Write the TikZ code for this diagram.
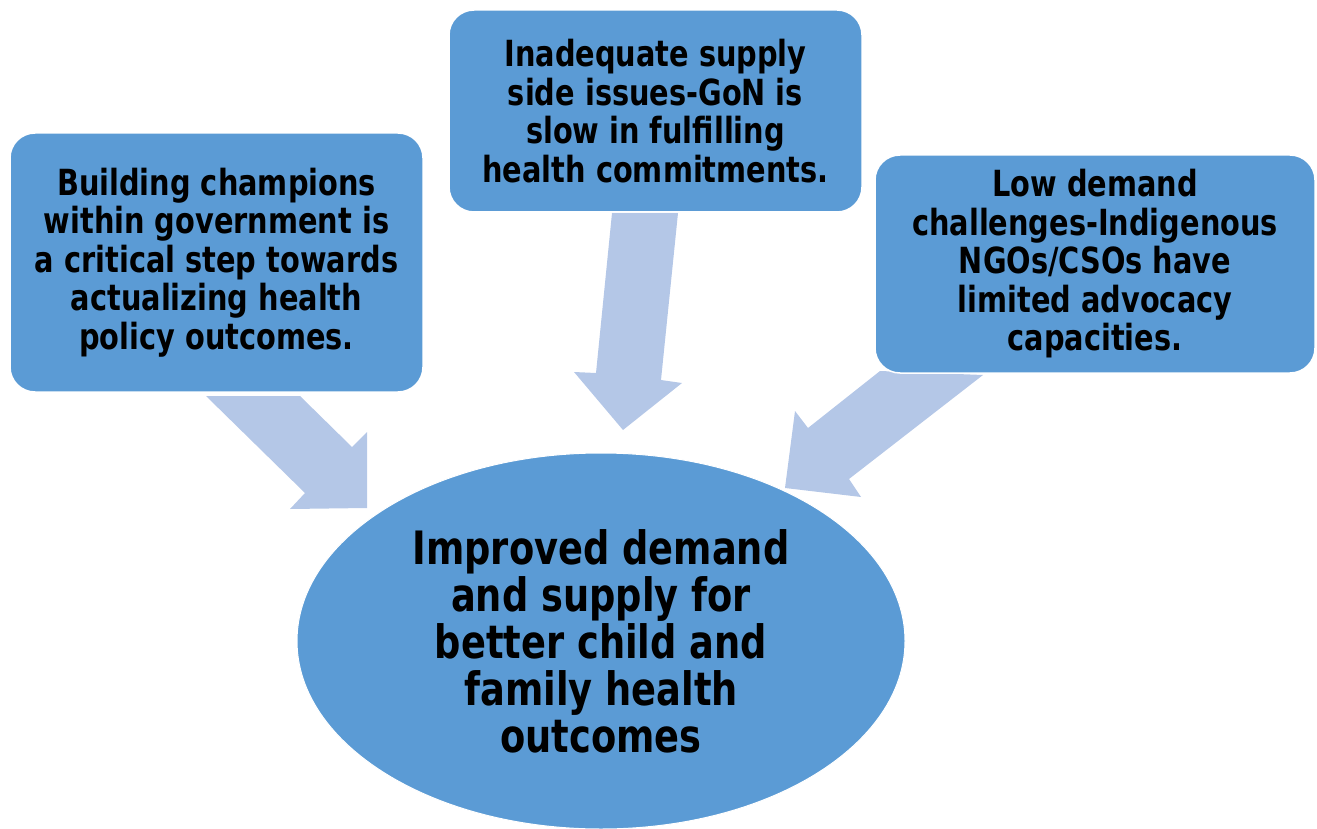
\documentclass[tikz,border=0pt]{standalone}
\usepackage{fontspec}
\setmainfont{DejaVu Sans}[FakeStretch=0.8]
\usetikzlibrary{shapes.geometric}
\definecolor{boxblue}{HTML}{5B9BD5}
\definecolor{arrowblue}{HTML}{B4C7E7}
\begin{document}
\begin{tikzpicture}[x=1pt,y=-1pt,
  sidebox/.style={draw=white,line width=1.5pt,fill=boxblue,rounded corners=25pt,
    inner sep=0pt,align=center,font=\bfseries\fontsize{36}{38.5}\selectfont},
  goalnode/.style={ellipse,draw=white,line width=1pt,fill=boxblue,inner sep=0pt,
    minimum width=608pt,minimum height=376pt,align=center,
    font=\bfseries\fontsize{46}{47}\selectfont},
  blockarrow/.style={fill=arrowblue,draw=none}]
\useasboundingbox (0,0) rectangle (1317,829);
% block arrows
\coordinate (la1) at (206,396); \coordinate (la2) at (300,396);
\coordinate (la3) at (352,447); \coordinate (la4) at (367,432);
\coordinate (la5) at (367,508); \coordinate (la6) at (290,509);
\coordinate (la7) at (305,493);
\fill[blockarrow] (la1) -- (la2) -- (la3) -- (la4) -- (la5) -- (la6) -- (la7) -- cycle;
\coordinate (ma1) at (612,213); \coordinate (ma2) at (678,213);
\coordinate (ma3) at (661,380); \coordinate (ma4) at (682,383);
\coordinate (ma5) at (623,430); \coordinate (ma6) at (574,372);
\coordinate (ma7) at (596,373);
\fill[blockarrow] (ma1) -- (ma2) -- (ma3) -- (ma4) -- (ma5) -- (ma6) -- (ma7) -- cycle;
\coordinate (ra1) at (983,375); \coordinate (ra2) at (880,371);
\coordinate (ra3) at (808,428); \coordinate (ra4) at (795,411);
\coordinate (ra5) at (785,488); \coordinate (ra6) at (861,497);
\coordinate (ra7) at (849,479);
\fill[blockarrow] (ra1) -- (ra2) -- (ra3) -- (ra4) -- (ra5) -- (ra6) -- (ra7) -- cycle;
% boxes
\node[sidebox,minimum width=413pt,minimum height=259pt] (left) at (216.5,262.5)
  {Building champions\\within government is\\a critical step towards\\actualizing health\\policy outcomes.};
\node[sidebox,minimum width=413pt,minimum height=202pt] (mid) at (655.5,111)
  {Inadequate supply\\side issues-GoN is\\slow in fulfilling\\health commitments.};
\node[sidebox,minimum width=440pt,minimum height=218pt] (right) at (1095,264)
  {Low demand\\challenges-Indigenous\\NGOs/CSOs have\\limited advocacy\\capacities.};
\node[goalnode] (goal) at (601,641)
  {Improved demand\\and supply for\\better child and\\family health\\outcomes};
\end{tikzpicture}
\end{document}
